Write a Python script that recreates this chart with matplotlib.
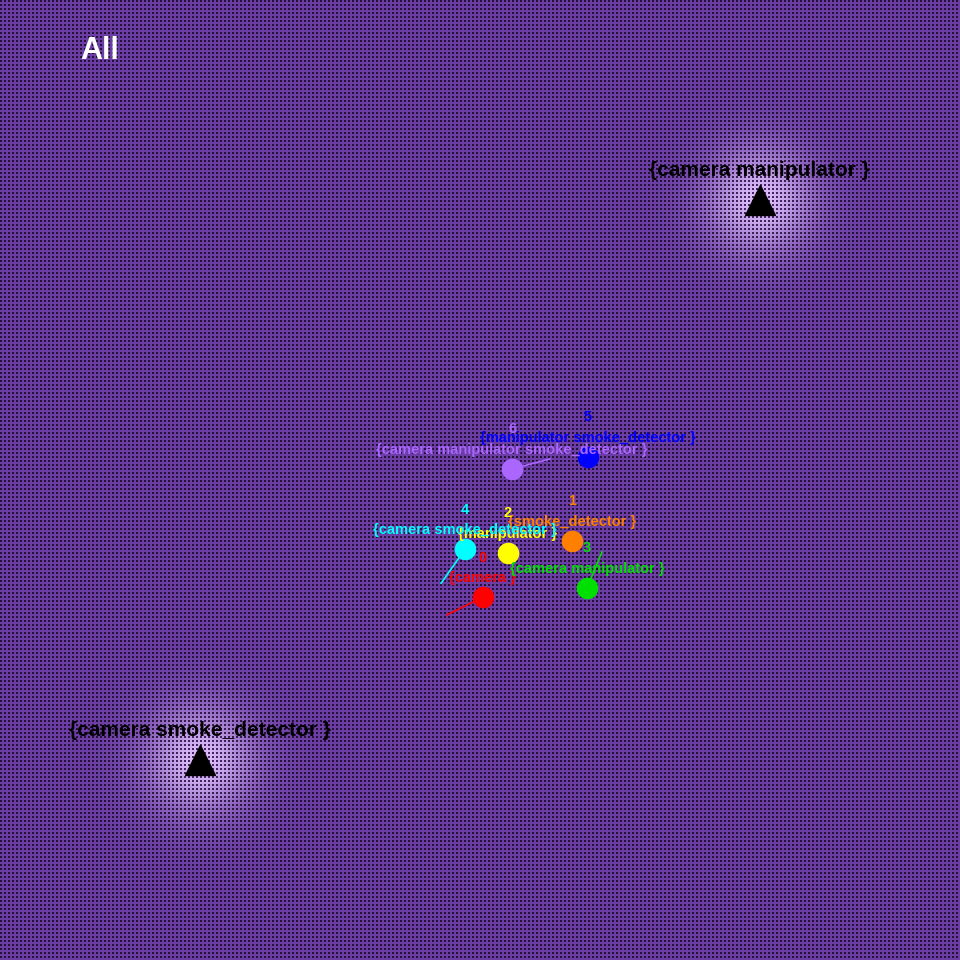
import numpy as np
import matplotlib
matplotlib.use("Agg")
import matplotlib.pyplot as plt

# targets (triangles) and their labels
target_x = [0.583, -0.583]
target_y = [0.583, -0.583]
target_labels = ["{camera manipulator }", "{camera smoke_detector }"]

# agents
agent_ids = ["0", "1", "2", "3", "4", "5", "6"]
agent_x = [0.006, 0.192, 0.058, 0.223, -0.031, 0.225, 0.067]
agent_y = [-0.244, -0.127, -0.152, -0.225, -0.144, 0.048, 0.023]
agent_dx = [-0.075, 0.0, 0.0, 0.031, -0.050, 0.0, 0.079]
agent_dy = [-0.037, 0.0, 0.0, 0.075, -0.071, 0.0, 0.021]
agent_labels = ["{camera }", "{smoke_detector }", "{manipulator }",
                "{camera manipulator }", "{camera smoke_detector }",
                "{manipulator smoke_detector }",
                "{camera manipulator smoke_detector }"]
agent_colors = ["#ff0000", "#ff8000", "#ffff00", "#00e000", "#00ffff",
                "#0000ff", "#aa66ff"]

W = 960
fig = plt.figure(figsize=(9.6, 9.6), dpi=100)
ax = fig.add_axes([0, 0, 1, 1])
ax.set_xlim(-1, 1)
ax.set_ylim(-1, 1)
ax.axis("off")

# dotted purple background with a glow around each target
yy, xx = np.mgrid[0:W, 0:W]
base = np.array([108, 62, 165], float)
light = np.array([222, 190, 252], float)
dark = np.array([35, 18, 55], float)
dark_light = np.array([70, 40, 100], float)
w = np.zeros((W, W))
for tx, ty in zip(target_x, target_y):
    cx = (tx + 1) / 2 * W
    cy = (1 - ty) / 2 * W
    r2 = (xx - cx) ** 2 + (yy - cy) ** 2
    w = np.maximum(w, np.exp(-r2 / (2 * 36.0 ** 2)))
w3 = w[..., None]
img = base + (light - base) * w3
dimg = dark + (dark_light - dark) * w3
mask = ((xx % 4) < 2) & ((yy % 4) < 2)
img[mask] = dimg[mask]
ax.imshow(img.astype(np.uint8), extent=[-1, 1, -1, 1], interpolation="nearest",
          zorder=0, aspect="auto")

font = "Liberation Sans"

ax.plot(target_x, target_y, "^", color="black", markersize=21.5, zorder=3)
for tx, ty, lab in zip(target_x, target_y, target_labels):
    ax.annotate(lab, (tx, ty), xytext=(0, 21), textcoords="offset points",
                ha="center", va="center", fontsize=15, fontweight="bold",
                family=font, color="black", zorder=4)

for i in range(len(agent_ids)):
    c = agent_colors[i]
    ax.plot([agent_x[i], agent_x[i] + agent_dx[i]],
            [agent_y[i], agent_y[i] + agent_dy[i]],
            color=c, lw=1.2, zorder=2)
    ax.plot(agent_x[i], agent_y[i], "o", color=c, markersize=14.5, zorder=3)
    ax.annotate(agent_ids[i], (agent_x[i], agent_y[i]), xytext=(0, 28.5),
                textcoords="offset points", ha="center", va="center",
                fontsize=10.5, fontweight="bold", family=font, color=c, zorder=4)
    ax.annotate(agent_labels[i], (agent_x[i], agent_y[i]), xytext=(0, 13.5),
                textcoords="offset points", ha="center", va="center",
                fontsize=10.5, fontweight="bold", family=font, color=c, zorder=4)

ax.text(0.0833, 0.947, "All", transform=ax.transAxes, ha="left", va="center",
        fontsize=22, fontweight="bold", family=font, color="white", zorder=4)

fig.savefig("out.png", dpi=100)
